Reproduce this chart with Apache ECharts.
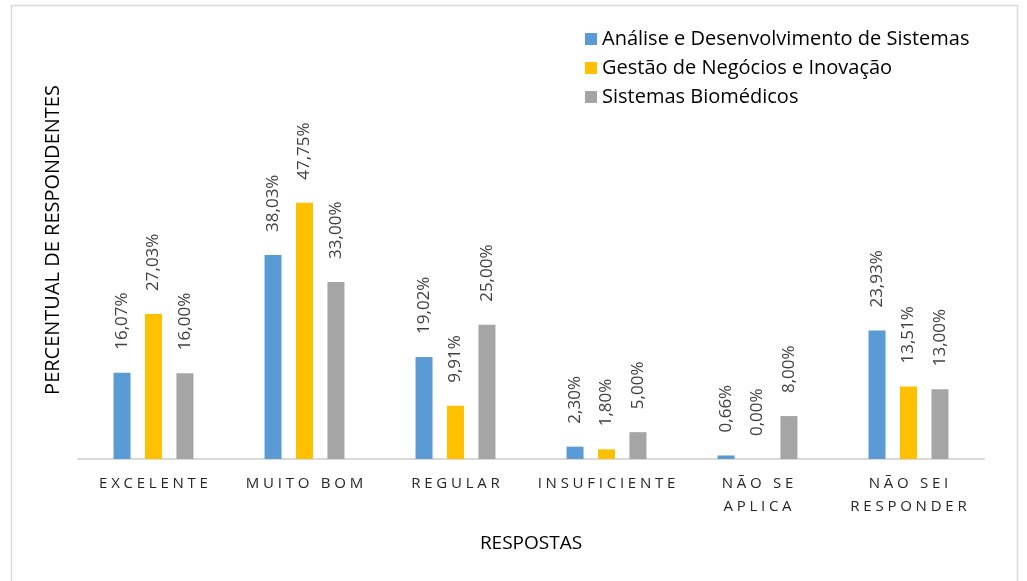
<!DOCTYPE html>
<html>
<head>
<meta charset="utf-8">
<script src="https://cdn.jsdelivr.net/npm/echarts@6/dist/echarts.min.js"></script>
<style>
  html, body { margin: 0; padding: 0; background: #fff; }
  #chart { width: 1027px; height: 581px; }
</style>
</head>
<body>
<div id="chart"></div>
<script>
// 数据
var categories = ['EXCELENTE', 'MUITO BOM', 'REGULAR', 'INSUFICIENTE', 'NÃO SE\nAPLICA', 'NÃO SEI\nRESPONDER'];
var seriesNames = ['Análise e Desenvolvimento de Sistemas', 'Gestão de Negócios e Inovação', 'Sistemas Biomédicos'];
var adsValues = [16.07, 38.03, 19.02, 2.30, 0.66, 23.93];
var gniValues = [27.03, 47.75, 9.91, 1.80, 0.00, 13.51];
var sbValues = [16.00, 33.00, 25.00, 5.00, 8.00, 13.00];
var colors = ['#5b9bd5', '#ffc000', '#a5a5a5'];

var fontName = 'Open Sans';

// 字母间距
function spaced(s) {
  return s.split('\n').map(function (line) {
    return line.split('').join('\u2005');
  }).join('\n');
}

function pct(v) {
  return v.toFixed(2).replace('.', ',') + '%';
}

function makeSeries(name, data) {
  return {
    name: name,
    type: 'bar',
    data: data,
    barWidth: 17,
    barGap: '85%',
    label: {
      show: true,
      position: 'top',
      rotate: 90,
      align: 'left',
      verticalAlign: 'middle',
      distance: 5,
      offset: [18, 0],
      color: '#404040',
      fontFamily: fontName,
      fontSize: 17,
      formatter: function (p) { return pct(p.value); }
    }
  };
}

var chart = echarts.init(document.getElementById('chart'));
chart.setOption({
  animation: false,
  color: colors,
  graphic: [{
    type: 'rect',
    shape: { x: 11.5, y: 5.5, width: 1006, height: 600 },
    style: { fill: 'none', stroke: '#d9d9d9', lineWidth: 1.5 }
  }],
  legend: {
    orient: 'vertical',
    left: 580,
    top: 21,
    itemWidth: 12,
    itemHeight: 12,
    itemGap: 3,
    icon: 'rect',
    textStyle: { color: '#000', fontFamily: fontName, fontSize: 20, lineHeight: 26 },
    data: seriesNames
  },
  grid: {
    left: 78,
    right: 43,
    top: 137,
    bottom: 122,
    containLabel: false
  },
  xAxis: {
    type: 'category',
    data: categories,
    name: 'RESPOSTAS',
    nameLocation: 'middle',
    nameGap: 75,
    nameTextStyle: { color: '#000', fontFamily: fontName, fontSize: 19 },
    axisLine: { lineStyle: { color: '#d9d9d9', width: 2 } },
    axisTick: { show: false },
    axisLabel: {
      interval: 0,
      margin: 13,
      color: '#262626',
      fontFamily: fontName,
      fontSize: 15,
      lineHeight: 23,
      verticalAlign: 'top',
      formatter: function (v) { return spaced(v); }
    }
  },
  yAxis: {
    type: 'value',
    min: 0,
    max: 60,
    name: 'PERCENTUAL DE RESPONDENTES',
    nameLocation: 'middle',
    nameGap: 15,
    nameRotate: 90,
    nameTextStyle: { color: '#000', fontFamily: fontName, fontSize: 20, padding: [0, 0, 0, 116] },
    axisLine: { show: false },
    axisTick: { show: false },
    axisLabel: { show: false },
    splitLine: { show: false }
  },
  series: [
    makeSeries(seriesNames[0], adsValues),
    makeSeries(seriesNames[1], gniValues),
    makeSeries(seriesNames[2], sbValues)
  ]
});
</script>
</body>
</html>
